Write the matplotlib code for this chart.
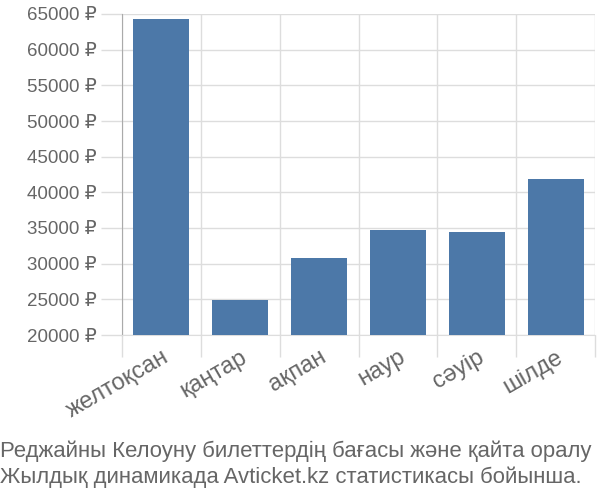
import matplotlib
matplotlib.use('Agg')
import matplotlib.pyplot as plt
import numpy as np

plt.rcParams['font.family'] = ['Liberation Sans', 'DejaVu Sans']

months = ['желтоқсан', 'қаңтар', 'ақпан', 'наур', 'сәуір', 'шілде']
prices = [64300, 24900, 30800, 34650, 34500, 41900]
y_ticks = list(range(20000, 65001, 5000))
caption_lines = ['Реджайны Келоуну билеттердің бағасы және қайта оралу',
                 'Жылдық динамикада Avticket.kz статистикасы бойынша.']

text_col = '#666666'
grid_col = '#dddddd'

fig = plt.figure(figsize=(6, 5), dpi=100)
ax = fig.add_axes([0.2033, 0.33, 0.7884, 0.642])

x = np.arange(len(months))
ax.bar(x, prices, width=0.71, color='#4c78a8', zorder=3)
ax.set_ylim(20000, 65000)
ax.set_xlim(-0.5, len(months) - 0.5)

ax.set_yticks(y_ticks)
ax.set_yticklabels([f'{v} ₽' for v in y_ticks])
ax.set_xticks(x)
ax.set_xticklabels(months, rotation=30, ha='right', rotation_mode='anchor')
ax.set_xticks(np.arange(-0.5, len(months)), minor=True)

ax.tick_params(axis='x', which='major', length=0, pad=8, labelsize=17, labelcolor=text_col)
ax.tick_params(axis='x', which='minor', length=16, color=grid_col, width=1)
ax.tick_params(axis='y', length=15, color=grid_col, width=1, pad=3,
               labelsize=13.5, labelcolor=text_col)

ax.grid(True, axis='y', color=grid_col, linewidth=1, zorder=0)
ax.grid(True, axis='x', which='minor', color=grid_col, linewidth=1, zorder=0)
for s in ['top', 'right']:
    ax.spines[s].set_visible(False)
ax.spines['left'].set_color('#aaaaaa')
ax.spines['bottom'].set_color(grid_col)

fig.text(0.0, 43 / 500, caption_lines[0], fontsize=15.9, color=text_col,
         ha='left', va='baseline')
fig.text(0.0, 17 / 500, caption_lines[1], fontsize=15.9, color=text_col,
         ha='left', va='baseline')

fig.savefig('out.png', dpi=100)
